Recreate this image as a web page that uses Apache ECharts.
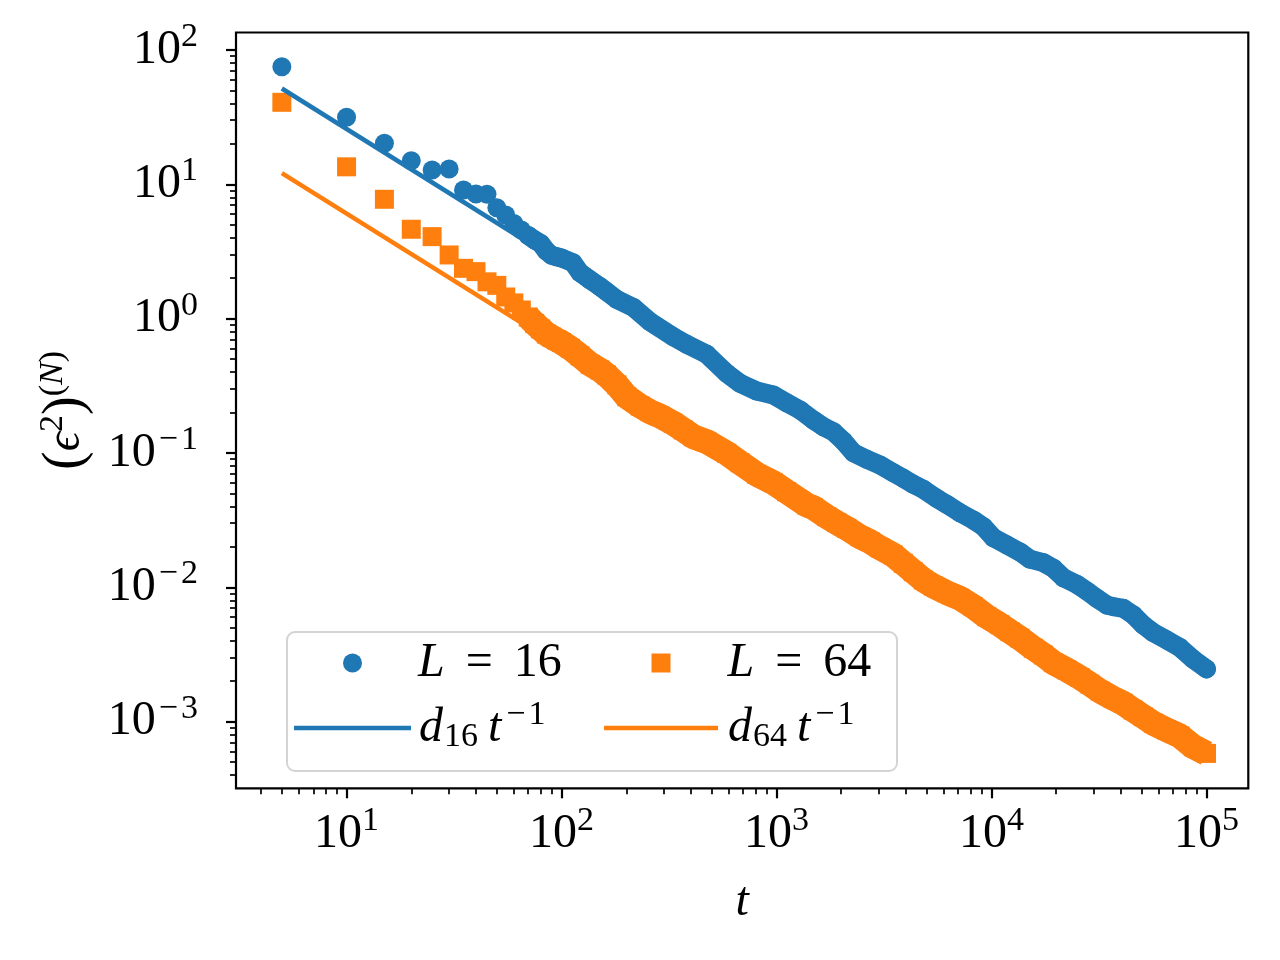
<!DOCTYPE html>
<html><head><meta charset="utf-8">
<script src="https://cdn.jsdelivr.net/npm/echarts@6/dist/echarts.min.js"></script>
<style>html,body{margin:0;padding:0;background:#fff}#c{width:1280px;height:960px}</style>
</head><body><div id="c"></div>
<script>
// ---- data ----
const tEarly = [5,10,15,20,25,30,35,40,45,50,55,60,65,70,75,80,85,90,95,100];
const l16Early = [75.1,31.6,20.2,15.0,12.8,13.0,9.08,8.48,8.43,6.7,5.91,5.12,4.57,4.16,3.85,3.63,3.19,2.96,2.89,2.83];
const l64Early = [40.8,13.5,7.74,4.63,4.08,2.98,2.37,2.24,1.88,1.77,1.45,1.31,1.16,1.03,0.921,0.838,0.769,0.730,0.694,0.665];

const tDense16 = [113,122,136,151,162,181,216,258,331,382,474,587,677,809,966,1115,1286,1483,1651,1838,2045,2276,2627,3029,3494,3889,4328,4818,5561,6188,7137,8229,9161,10195,11770,13570,15110,17410,19390,21580,24910,27720,30860,34350,36830,41020,45650,50820,56580,65290,75290,86830,100000];
const l16Dense = [2.61,2.20,1.94,1.73,1.59,1.39,1.21,0.950,0.734,0.645,0.543,0.392,0.330,0.2894,0.2703,0.2369,0.209,0.176,0.157,0.144,0.1229,0.1006,0.0898,0.0814,0.0714,0.0648,0.0585,0.0537,0.0460,0.0415,0.0359,0.0317,0.0283,0.0234,0.0207,0.0183,0.0162,0.01527,0.01386,0.0118,0.01054,0.00940,0.00829,0.00739,0.00718,0.00698,0.00623,0.00525,0.00460,0.00406,0.00356,0.00291,0.00247];

const tDense64 = [110,122,136,151,162,181,201,232,258,287,331,368.5,410,474,587,677,809,966,1115,1382,1483,1712,1905,2121,2446,2722,3029,3494,3889,4328,4818,5363,6188,7137,8229,9500,10950,12190,13570,15650,17410,19390,22380,25800,28720,31970,36830,41020,45650,50820,56580,65290,75290,86830,100000];
const l64Dense = [0.602,0.528,0.4575,0.415,0.381,0.321,0.2625,0.2239,0.2031,0.1887,0.1665,0.1484,0.1322,0.1214,0.0995,0.0847,0.0694,0.0601,0.0515,0.0410,0.0392,0.0336,0.0303,0.0275,0.0238,0.0219,0.0197,0.0174,0.0151,0.01308,0.01134,0.01023,0.00912,0.00829,0.00718,0.00605,0.00527,0.00468,0.00418,0.00352,0.00314,0.00275,0.00243,0.00213,0.00190,0.00169,0.00149,0.00137,0.00122,0.00109,0.000973,0.000868,0.000783,0.000651,0.000580];

const fitT = [5, 100000];
const fit16 = [51.7, 0.00258];
const fit64 = [12.1, 0.000605];

const xMajor = [10, 100, 1000, 10000, 100000];
const yMajor = [0.001, 0.01, 0.1, 1, 10, 100];
const xMin = 3.06, xMax = 156500;
const yMin = 3.19e-4, yMax = 135;

// ---- helpers ----
function minors(lo, hi) {
  const out = [];
  for (let e = -5; e <= 6; e++) for (let k = 2; k <= 9; k++) {
    const v = k * Math.pow(10, e);
    if (v > lo && v < hi) out.push(v);
  }
  return out;
}
const xMinor = minors(xMin, xMax);
const yMinor = minors(yMin, yMax);

const BLUE = '#1f77b4', ORANGE = '#ff7f0e';
const F = "'Liberation Serif','DejaVu Serif',serif";
const FS = 48, SFS = 34;
const rich = {
  b: {fontSize: FS, fontFamily: F, color: '#000', lineHeight: FS},
  p: {fontSize: 56, fontFamily: F, color: '#000', lineHeight: FS},
  i: {fontSize: FS, fontFamily: F, color: '#000', fontStyle: 'italic', lineHeight: FS},
  it: {fontSize: FS, fontFamily: F, color: '#000', fontStyle: 'italic', lineHeight: FS, padding: [0, 2, 0, 0]},
  eq: {fontSize: FS, fontFamily: F, color: '#000', lineHeight: FS, padding: [0, 21, 0, 21]},
  s: {fontSize: SFS, fontFamily: F, color: '#000', lineHeight: SFS, padding: [0, 0, 26, 0]},
  m: {fontSize: SFS, fontFamily: F, color: '#000', lineHeight: SFS, padding: [0, 3, 26, 3]},
  si: {fontSize: SFS, fontFamily: F, color: '#000', fontStyle: 'italic', lineHeight: SFS, padding: [0, 0, 26, 0]},
  u: {fontSize: SFS, fontFamily: F, color: '#000', lineHeight: SFS, padding: [18, 10, 0, 1]}
};
function powLabel(v) {
  const e = Math.round(Math.log10(v));
  return e < 0 ? '{b|10}{m|\u2212}{s|' + (-e) + '}' : '{b|10}{s|' + e + '}';
}
const pairs = (xs, ys) => xs.map((t, i) => [t, ys[i]]);

const early16 = pairs(tEarly, l16Early);
const early64 = pairs(tEarly, l64Early);
const dense16 = pairs(tDense16, l16Dense);
const dense64 = pairs(tDense64, l64Dense);
const band16 = early16.filter(p => p[0] >= 70).concat(dense16);
const band64 = early64.filter(p => p[0] >= 70).concat(dense64);

const legendText = {
  'L = 16': '{i|L}{eq|=}{b|16}',
  'L = 64': '{i|L}{eq|=}{b|64}',
  'd16': '{i|d}{u|16}{it|t}{m|\u2212}{s|1}',
  'd64': '{i|d}{u|64}{it|t}{m|\u2212}{s|1}'
};
function mkLegend(name, icon, left, top, w, h, padLeft) {
  return {
    left: left, top: top, padding: 0, z: 20,
    data: [{name: name, icon: icon}],
    itemWidth: w, itemHeight: h, selectedMode: false,
    formatter: n => legendText[n],
    textStyle: {rich: rich, padding: [0, 0, 0, padLeft]}
  };
}

const chart = echarts.init(document.getElementById('c'), null, {renderer: 'canvas'});
chart.setOption({
  animation: false,
  backgroundColor: '#fff',
  grid: {left: 236, top: 32.5, right: 31.7, bottom: 171.7, show: true, borderColor: '#000', borderWidth: 2.2, backgroundColor: 'transparent'},
  xAxis: [
    {type: 'log', min: xMin, max: xMax, position: 'bottom',
     name: 't', nameLocation: 'middle', nameGap: 90,
     nameTextStyle: {fontFamily: F, fontSize: FS, fontStyle: 'italic', color: '#000', lineHeight: FS},
     axisLine: {show: false},
     axisTick: {customValues: xMajor, length: 10, lineStyle: {color: '#000', width: 2.2}},
     axisLabel: {customValues: xMajor, margin: 22, formatter: powLabel, rich: rich},
     splitLine: {show: false}, minorTick: {show: false}},
    {type: 'log', min: xMin, max: xMax, position: 'bottom',
     axisLine: {show: false},
     axisTick: {customValues: xMinor, length: 6, lineStyle: {color: '#000', width: 1.7}},
     axisLabel: {show: false}, splitLine: {show: false}}
  ],
  yAxis: [
    {type: 'log', min: yMin, max: yMax, position: 'left',
     name: '{p|(}{i|\u03F5}{s|2}{p|)}{s|(}{si|N}{s|)}', nameLocation: 'middle', nameGap: 146, nameRotate: 90,
     nameTextStyle: {rich: rich},
     axisLine: {show: false},
     axisTick: {customValues: yMajor, length: 10, lineStyle: {color: '#000', width: 2.2}},
     axisLabel: {customValues: yMajor, margin: 38, formatter: powLabel, rich: rich},
     splitLine: {show: false}},
    {type: 'log', min: yMin, max: yMax, position: 'left',
     axisLine: {show: false},
     axisTick: {customValues: yMinor, length: 6, lineStyle: {color: '#000', width: 1.7}},
     axisLabel: {show: false}, splitLine: {show: false}}
  ],
  legend: [
    mkLegend('L = 16', 'circle', 343, 639, 19, 19, 51),
    mkLegend('L = 64', 'rect', 651.5, 639, 19, 19, 52),
    mkLegend('d16', 'rect', 294, 698, 117, 4.5, 3),
    mkLegend('d64', 'rect', 604, 698, 114, 4.5, 5)
  ],
  graphic: [{
    type: 'rect', left: 286, top: 631, z: 10,
    shape: {width: 610, height: 139, r: 8},
    style: {fill: 'rgba(255,255,255,0.8)', stroke: '#d4d4d4', lineWidth: 2}
  }],
  series: [
    {type: 'line', name: 'L = 16 band', data: band16, symbol: 'none', silent: true, z: 2,
     lineStyle: {color: BLUE, width: 19, cap: 'round', join: 'round'}},
    {type: 'scatter', name: 'L = 16', data: early16.concat(dense16), symbol: 'circle', symbolSize: 19, silent: true, z: 2,
     itemStyle: {color: BLUE, opacity: 1}},
    {type: 'line', name: 'L = 64 band', data: band64, symbol: 'none', silent: true, z: 2,
     lineStyle: {color: ORANGE, width: 25, cap: 'butt', join: 'bevel'}},
    {type: 'scatter', name: 'L = 64', data: early64.concat(dense64), symbol: 'rect', symbolSize: 19, silent: true, z: 2,
     itemStyle: {color: ORANGE, opacity: 1}},
    {type: 'line', name: 'd16', data: pairs(fitT, fit16), symbol: 'none', silent: true, z: 3,
     lineStyle: {color: BLUE, width: 4.5}, itemStyle: {color: BLUE}},
    {type: 'line', name: 'd64', data: pairs(fitT, fit64), symbol: 'none', silent: true, z: 3,
     lineStyle: {color: ORANGE, width: 4.5}, itemStyle: {color: ORANGE}}
  ]
});
</script></body></html>
